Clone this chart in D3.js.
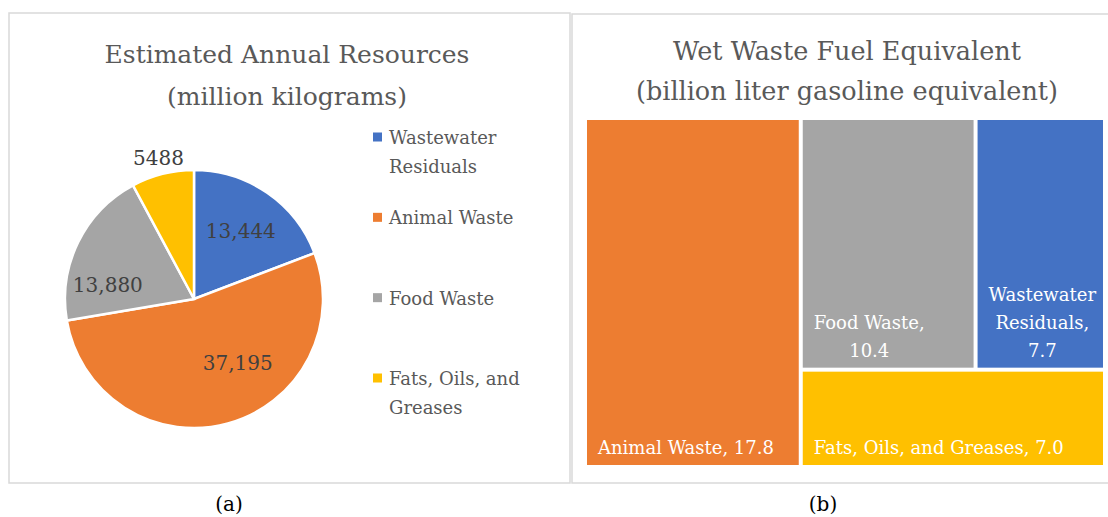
<!DOCTYPE html>
<html>
<head>
<meta charset="utf-8">
<script src="https://cdn.jsdelivr.net/npm/d3@7"></script>
<style>
body { margin: 0; background: #fff; }
text { font-family: "DejaVu Serif", serif; }
</style>
</head>
<body>
<svg id="chart" width="1108" height="517"></svg>
<script>
"use strict";

// categories shared by both panels
var names = ["Wastewater Residuals", "Animal Waste", "Food Waste", "Fats, Oils, and Greases"];
var colors = ["#4472C4", "#ED7D31", "#A5A5A5", "#FFC000"];

// (a) estimated annual resources, million kg
var pieValues = [13444, 37195, 13880, 5488];
var pieLabels = ["13,444", "37,195", "13,880", "5488"];
var legendLines = [["Wastewater", "Residuals"], ["Animal Waste"], ["Food Waste"], ["Fats, Oils, and", "Greases"]];

// (b) fuel equivalent, billion liter gasoline equivalent
var fuelValues = [7.7, 17.8, 10.4, 7.0];
var fuelLabels = ["7.7", "17.8", "10.4", "7.0"];

// excel "best fit" puts a couple of the pie labels off the centroid
var labelNudge = { "Animal Waste": [22, -16], "Food Waste": [-12, 22] };

var svg = d3.select("#chart");

// panel frames
svg.append("rect").attr("x", 9).attr("y", 13).attr("width", 561).attr("height", 470)
    .attr("fill", "none").attr("stroke", "#d9d9d9").attr("stroke-width", 1.5);
svg.append("rect").attr("x", 572).attr("y", 14).attr("width", 540).attr("height", 469)
    .attr("fill", "none").attr("stroke", "#d9d9d9").attr("stroke-width", 1.5);

// captions
svg.append("text").attr("x", 229).attr("y", 511).attr("text-anchor", "middle")
    .attr("font-size", 20).attr("fill", "#000").text("(a)");
svg.append("text").attr("x", 823).attr("y", 511).attr("text-anchor", "middle")
    .attr("font-size", 20).attr("fill", "#000").text("(b)");

// ---------- (a) pie ----------
var pieTitle = svg.append("text").attr("text-anchor", "middle").attr("fill", "#595959").attr("font-size", 25);
pieTitle.append("tspan").attr("x", 287).attr("y", 63).text("Estimated Annual Resources");
pieTitle.append("tspan").attr("x", 287).attr("y", 105).text("(million kilograms)");

var pieData = names.map((n, i) => ({ name: n, value: pieValues[i], label: pieLabels[i], color: colors[i] }));
var total = d3.sum(pieValues);

var radius = 129;
var pieG = svg.append("g").attr("transform", "translate(194,299)");

var pie = d3.pie().sort(null).value(d => d.value);
var arc = d3.arc().innerRadius(0).outerRadius(radius);
var inArc = d3.arc().innerRadius(radius * 0.64).outerRadius(radius * 0.64);
var outArc = d3.arc().innerRadius(radius * 1.13).outerRadius(radius * 1.13);

var arcs = pie(pieData);

pieG.selectAll("path")
    .data(arcs)
    .join("path")
    .attr("d", arc)
    .attr("fill", d => d.data.color)
    .attr("stroke", "#fff")
    .attr("stroke-width", 2.5);

pieG.selectAll("text")
    .data(arcs)
    .join("text")
    .attr("transform", d => {
        var small = d.data.value / total < 0.1;
        var c = (small ? outArc : inArc).centroid(d);
        var n = labelNudge[d.data.name] || [0, 0];
        return `translate(${c[0] + n[0]},${c[1] + n[1]})`;
    })
    .attr("text-anchor", "middle")
    .attr("dy", "0.35em")
    .attr("font-size", 20)
    .attr("fill", "#404040")
    .text(d => d.data.label);

// legend
var legend = svg.append("g");
var legendY = d3.scalePoint().domain(names).range([137, 378]);
names.forEach((n, i) => {
    var y = legendY(n);
    legend.append("rect").attr("x", 373).attr("y", y - 4.5).attr("width", 9).attr("height", 9).attr("fill", colors[i]);
    var t = legend.append("text").attr("fill", "#595959").attr("font-size", 18);
    legendLines[i].forEach((line, j) => {
        t.append("tspan").attr("x", 389).attr("y", y + 7 + j * 29).text(line);
    });
});

// ---------- (b) treemap ----------
var tmTitle = svg.append("text").attr("text-anchor", "middle").attr("fill", "#595959").attr("font-size", 25.5);
tmTitle.append("tspan").attr("x", 847).attr("y", 60).text("Wet Waste Fuel Equivalent");
tmTitle.append("tspan").attr("x", 847).attr("y", 100).text("(billion liter gasoline equivalent)");

var leaves = names.map((n, i) => ({ name: n, value: fuelValues[i], label: fuelLabels[i], color: colors[i] }));
// excel-style arrangement: biggest on the left, rest stacked on the right
var treeData = {
    children: [
        leaves[1],
        { children: [ { children: [leaves[2], leaves[0]] }, leaves[3] ] }
    ]
};

var root = d3.hierarchy(treeData).sum(d => d.children ? 0 : d.value);

function tile(node, x0, y0, x1, y1) {
    (node.depth % 2 === 0 ? d3.treemapDice : d3.treemapSlice)(node, x0, y0, x1, y1);
}

d3.treemap().size([516, 345]).paddingInner(4).tile(tile)(root);

var tm = svg.append("g").attr("transform", "translate(587,120)");

var cell = tm.selectAll("g")
    .data(root.leaves())
    .join("g")
    .attr("transform", d => `translate(${d.x0},${d.y0})`);

cell.append("rect")
    .attr("width", d => d.x1 - d.x0)
    .attr("height", d => d.y1 - d.y0)
    .attr("fill", d => d.data.color);

// wrap "name, value" to the cell width, lines centred in a left-aligned block
var measure = svg.append("text").attr("font-size", 18).attr("visibility", "hidden");
function textWidth(s) {
    measure.text(s);
    return measure.node().getComputedTextLength();
}

cell.each(function (d) {
    var g = d3.select(this);
    var w = d.x1 - d.x0, h = d.y1 - d.y0;
    var maxW = w - 20;
    var words = (d.data.name + ", " + d.data.label).split(" ");
    var lines = [], cur = "";
    words.forEach(word => {
        var test = cur ? cur + " " + word : word;
        if (cur && textWidth(test) > maxW) {
            lines.push(cur);
            cur = word;
        } else {
            cur = test;
        }
    });
    lines.push(cur);
    var blockW = d3.max(lines, textWidth);
    var lh = 28;
    var t = g.append("text")
        .attr("fill", "#fff")
        .attr("font-size", 18)
        .attr("text-anchor", "middle");
    lines.forEach((line, j) => {
        t.append("tspan")
            .attr("x", 11 + blockW / 2)
            .attr("y", h - 11 - (lines.length - 1 - j) * lh)
            .text(line);
    });
});

measure.remove();
</script>
</body>
</html>
